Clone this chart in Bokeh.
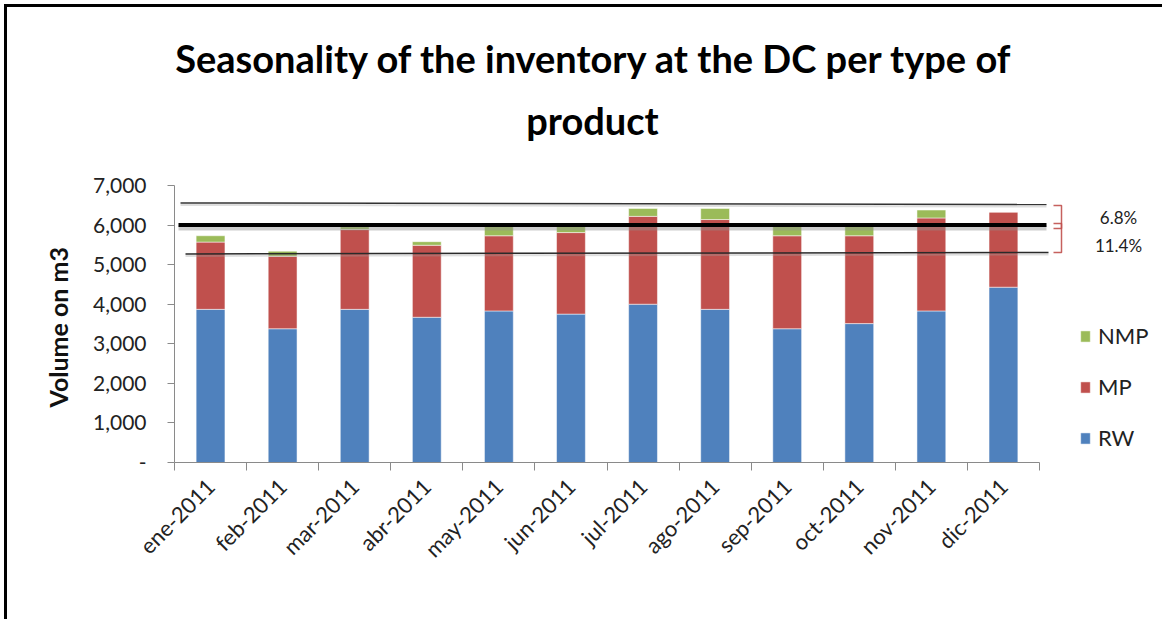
import math
from bokeh.plotting import figure
from bokeh.models import (ColumnDataSource, Range1d, Label, Legend, LegendItem, Title,
                          PolyAnnotation, NumeralTickFormatter, FixedTicker)
from bokeh.embed import file_html
from bokeh.resources import INLINE

# ---------------- data ----------------
months = ["ene-2011", "feb-2011", "mar-2011", "abr-2011", "may-2011", "jun-2011",
          "jul-2011", "ago-2011", "sep-2011", "oct-2011", "nov-2011", "dic-2011"]
rw = [3870, 3380, 3870, 3670, 3830, 3750, 4000, 3870, 3380, 3510, 3830, 4430]
mp = [1700, 1830, 2020, 1820, 1900, 2060, 2220, 2270, 2350, 2220, 2350, 1900]
nmp = [160, 130, 70, 90, 260, 170, 200, 280, 250, 250, 200, 0]
series = ["RW", "MP", "NMP"]
colors = ["#4F81BD", "#C0504D", "#9BBB59"]
y_ticks = [0, 1000, 2000, 3000, 4000, 5000, 6000, 7000]
target = 6000
upper_line = [6560, 6520]
lower_line = [5270, 5310]
band_labels = ["6.8%", "11.4%"]
band_upper = [6495, 6040]
band_lower = [5913, 5307]

# ---------------- layout (page pixels) ----------------
W, H = 1165, 622
OFF = 7                      # outer frame line (CSS border) thickness + margin
FL, FR, FT, FB = 174, 1039, 185, 462
n = len(months)
YMAX = 7000
band_label_py = [217, 245]

def px_x(px):
    return (px - FL) / (FR - FL) * n

def px_y(py):
    return (FB - py) / (FB - FT) * YMAX

FONT = "Lato"
AXIS_GRAY = "#8a8a8a"

p = figure(width=W - OFF, height=H - OFF, title=None,
           x_range=Range1d(0, px_x(W)), y_range=Range1d(0, px_y(OFF)),
           output_backend="svg", toolbar_location=None,
           min_border_left=FL - OFF, min_border_right=0, min_border_top=0,
           min_border_bottom=H - FB)
p.styles = {"margin-left": "4px", "margin-top": "4px",
            "border-left": "3px solid #000000", "border-top": "3px solid #000000"}
p.outline_line_color = None
p.xgrid.grid_line_color = None
p.ygrid.grid_line_color = None
p.background_fill_color = "white"
p.border_fill_color = "white"

xc = [i + 0.5 for i in range(n)]
src = ColumnDataSource(dict(x=xc, month=months, RW=rw, MP=mp, NMP=nmp))
rs = p.vbar_stack(series, x="x", width=0.4, color=colors, source=src,
                  line_color="white", line_alpha=0.5, line_width=1)

# y axis
p.yaxis.bounds = (0, YMAX)
p.yaxis.ticker = FixedTicker(ticks=y_ticks)
p.yaxis.formatter = NumeralTickFormatter(format="0,0")
p.yaxis.major_label_overrides = {0: "-"}
p.yaxis.major_label_text_font = FONT
p.yaxis.major_label_text_font_size = "21px"
p.yaxis.major_label_text_color = "#222222"
p.yaxis.major_label_standoff = 21
p.yaxis.major_tick_in = 0
p.yaxis.major_tick_out = 7
p.yaxis.minor_tick_line_color = None
p.yaxis.axis_line_color = AXIS_GRAY
p.yaxis.major_tick_line_color = AXIS_GRAY

# y axis title, positioned along the value axis extent
p.add_layout(Title(text="Volume on m3", align="left", offset=FB - 408 + 1,
                   vertical_align="top", standoff=31,
                   text_font=FONT, text_font_style="bold", text_font_size="25px",
                   text_color="#111111"), "left")

# x axis: labels at category centres, tick marks at category boundaries
p.xaxis.bounds = (0, n)
p.xaxis.ticker = FixedTicker(ticks=xc, minor_ticks=list(range(n + 1)))
p.xaxis.major_label_overrides = {x: m for x, m in zip(xc, months)}
p.xaxis.major_label_orientation = math.pi / 4
p.xaxis.major_label_text_font = FONT
p.xaxis.major_label_text_font_size = "22px"
p.xaxis.major_label_text_color = "#222222"
p.xaxis.major_label_standoff = 12
p.xaxis.major_tick_line_color = None
p.xaxis.minor_tick_in = 0
p.xaxis.minor_tick_out = 8
p.xaxis.minor_tick_line_color = AXIS_GRAY
p.xaxis.axis_line_color = AXIS_GRAY

# reference lines
def hline(x0, x1, y0, y1, color, width, alpha=1.0):
    p.add_layout(PolyAnnotation(xs=[x0, x1], ys=[y0, y1], fill_alpha=0,
                                line_color=color, line_width=width, line_alpha=alpha))

sh2 = px_y(FB + 2)  # small shadow offset (negative, data units)
sh3 = px_y(FB + 3)
hline(px_x(180), px_x(1046), upper_line[0] + sh2, upper_line[1] + sh2, "#a0a0a0", 2, 0.35)
hline(px_x(180), px_x(1046), upper_line[0], upper_line[1], "#333333", 1.5)
hline(px_x(178), px_x(1046), target + sh3, target + sh3, "#909090", 5, 0.45)
hline(px_x(178), px_x(1046), target, target, "#000000", 4)
hline(px_x(185), px_x(1048), lower_line[0] + sh2, lower_line[1] + sh2, "#a0a0a0", 2, 0.35)
hline(px_x(185), px_x(1048), lower_line[0], lower_line[1], "#2a2a2a", 1.5)

# brackets and percentage labels
bx0, bx1 = px_x(1053), px_x(1061)
for top, bot, lab, ly in zip(band_upper, band_lower, band_labels, band_label_py):
    p.add_layout(PolyAnnotation(xs=[bx0, bx1, bx1, bx0, bx1, bx1], ys=[top, top, bot, bot, bot, top],
                                fill_alpha=0, line_color="#C0504D", line_alpha=0.9, line_width=1.5))
    p.add_layout(Label(x=px_x(1118), y=px_y(ly), text=lab, text_align="center",
                       text_baseline="middle", text_font=FONT, text_font_size="17px",
                       text_color="#222222"))

# chart title
p.add_layout(Label(x=px_x(594), y=px_y(57), text="Seasonality of the inventory at the DC per type of",
                   text_align="center", text_baseline="alphabetic", text_font=FONT,
                   text_font_style="bold", text_font_size="38px", text_color="#000000"))
p.add_layout(Label(x=px_x(592), y=px_y(119), text="product",
                   text_align="center", text_baseline="alphabetic", text_font=FONT,
                   text_font_style="bold", text_font_size="38px", text_color="#000000"))

# legend
legend = Legend(items=[LegendItem(label=s, renderers=[r]) for s, r in reversed(list(zip(series, rs)))],
                location=(1079 - FL, FB - 451), orientation="vertical",
                glyph_width=12, glyph_height=14, label_height=26, spacing=24,
                label_standoff=7, padding=0, margin=0,
                label_text_font=FONT, label_text_font_size="22px", label_text_color="#222222",
                border_line_color=None, background_fill_alpha=0)
p.add_layout(legend, "center")

open("out.html", "w").write(file_html(p, INLINE))
